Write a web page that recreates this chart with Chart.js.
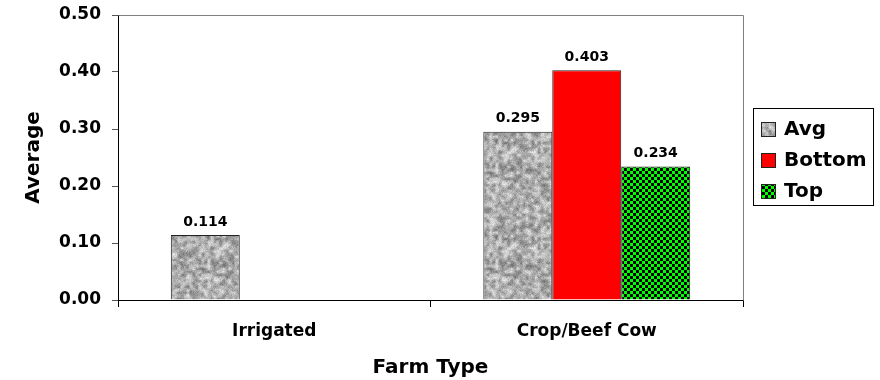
<!DOCTYPE html>
<html>
<head>
<meta charset="utf-8">
<script src="https://cdn.jsdelivr.net/npm/chart.js@4/dist/chart.umd.min.js"></script>
<style>
  html, body { margin: 0; padding: 0; background: #ffffff; }
  #wrap { width: 880px; height: 380px; position: relative; }
</style>
</head>
<body>
<div id="wrap"><canvas id="chart" width="880" height="380"></canvas></div>
<script>
// Farm types on the category axis
const categories = ['Irrigated', 'Crop/Beef Cow'];
// Series values per farm type (Irrigated has only an average)
const avgValues = [0.114, 0.295];
const bottomValues = [null, 0.403];
const topValues = [null, 0.234];
// Value axis ticks
const yTicks = [0.00, 0.10, 0.20, 0.30, 0.40, 0.50];

const FONT = "'DejaVu Sans', Verdana, sans-serif";

// Speckled grey fill built from a small seeded generator so it is the same every run
function granitePattern(ctx) {
  const size = 96;
  const c = document.createElement('canvas');
  c.width = size; c.height = size;
  const g = c.getContext('2d');
  let seed = 12345;
  const rnd = () => { seed = (seed * 1103515245 + 12345) & 0x7fffffff; return seed / 0x7fffffff; };
  const cs = 3;
  const n = size / cs;
  const cells = [];
  for (let y = 0; y < n; y++) {
    cells.push([]);
    for (let x = 0; x < n; x++) cells[y].push(rnd());
  }
  const cell = (x, y) => cells[(y + n) % n][(x + n) % n];
  const img = g.createImageData(size, size);
  for (let y = 0; y < size; y++) {
    for (let x = 0; x < size; x++) {
      const fx = x / cs - 0.5, fy = y / cs - 0.5;
      const x0 = Math.floor(fx), y0 = Math.floor(fy);
      const tx = fx - x0, ty = fy - y0;
      const a = cell(x0, y0) * (1 - tx) + cell(x0 + 1, y0) * tx;
      const b = cell(x0, y0 + 1) * (1 - tx) + cell(x0 + 1, y0 + 1) * tx;
      const s = a * (1 - ty) + b * ty;
      const v = Math.round(100 + (s * 0.75 + rnd() * 0.25) * 145);
      const i = (y * size + x) * 4;
      img.data[i] = v; img.data[i + 1] = v; img.data[i + 2] = v; img.data[i + 3] = 255;
    }
  }
  g.putImageData(img, 0, 0);
  return ctx.createPattern(c, 'repeat');
}

// Green and black checkerboard fill
function checkerPattern(ctx) {
  const c = document.createElement('canvas');
  c.width = 6; c.height = 6;
  const g = c.getContext('2d');
  g.fillStyle = '#00ff00';
  g.fillRect(0, 0, 6, 6);
  g.fillStyle = '#000000';
  g.fillRect(0, 0, 3, 3);
  g.fillRect(3, 3, 3, 3);
  return ctx.createPattern(c, 'repeat');
}

const canvas = document.getElementById('chart');
const ctx = canvas.getContext('2d');
const avgFill = granitePattern(ctx);
const topFill = checkerPattern(ctx);

// Value printed above each bar
const barValueLabels = {
  id: 'barValueLabels',
  afterDatasetsDraw(chart) {
    const c = chart.ctx;
    c.save();
    c.font = 'bold 14px ' + FONT;
    c.fillStyle = '#000000';
    c.textAlign = 'center';
    c.textBaseline = 'bottom';
    chart.data.datasets.forEach((ds, di) => {
      const meta = chart.getDatasetMeta(di);
      meta.data.forEach((bar, i) => {
        const v = ds.data[i];
        if (v === null || v === undefined) return;
        c.fillText(v.toFixed(3), bar.x, bar.y - 6);
      });
    });
    c.restore();
  }
};

// Grey frame on the top and right of the plot area
const plotFrame = {
  id: 'plotFrame',
  beforeDatasetsDraw(chart) {
    const a = chart.chartArea;
    const c = chart.ctx;
    c.save();
    c.strokeStyle = '#808080';
    c.lineWidth = 1;
    c.beginPath();
    c.moveTo(Math.round(a.left) + 0.5, Math.round(a.top) + 0.5);
    c.lineTo(Math.round(a.right) + 0.5, Math.round(a.top) + 0.5);
    c.lineTo(Math.round(a.right) + 0.5, Math.round(a.bottom) + 0.5);
    c.stroke();
    c.restore();
  }
};

// Boxed legend on the right
const boxedLegend = {
  id: 'boxedLegend',
  afterDraw(chart) {
    const c = chart.ctx;
    const a = chart.chartArea;
    const boxX = a.right + 10, boxY = 108, boxW = 120, boxH = 97;
    c.save();
    c.strokeStyle = '#000000';
    c.lineWidth = 1;
    c.strokeRect(Math.round(boxX) + 0.5, boxY + 0.5, boxW, boxH);
    c.font = 'bold 20px ' + FONT;
    c.textAlign = 'left';
    c.textBaseline = 'middle';
    chart.data.datasets.forEach((ds, i) => {
      const cy = 129 + i * 31;
      const sx = Math.round(boxX) + 8;
      c.fillStyle = ds.backgroundColor;
      c.fillRect(sx, cy - 7, 15, 15);
      c.strokeStyle = '#222222';
      c.strokeRect(sx + 0.5, cy - 7 + 0.5, 14, 14);
      c.fillStyle = '#000000';
      c.fillText(ds.label, sx + 23, cy + 1);
    });
    c.restore();
  }
};

new Chart(ctx, {
  type: 'bar',
  data: {
    labels: categories,
    datasets: [
      { label: 'Avg', data: avgValues, backgroundColor: avgFill, borderColor: '#222222', borderWidth: 1 },
      { label: 'Bottom', data: bottomValues, backgroundColor: '#ff0000', borderColor: '#222222', borderWidth: 1 },
      { label: 'Top', data: topValues, backgroundColor: topFill, borderColor: '#222222', borderWidth: 1 }
    ]
  },
  options: {
    responsive: false,
    animation: false,
    devicePixelRatio: 1,
    layout: { padding: { top: 15, right: 137, bottom: 0, left: 10 } },
    datasets: { bar: { categoryPercentage: 0.662, barPercentage: 1.0 } },
    plugins: {
      legend: { display: false },
      tooltip: { enabled: false }
    },
    scales: {
      x: {
        grid: { drawOnChartArea: false, drawTicks: true, tickLength: 7, color: '#000000', offset: true },
        border: { color: '#000000', width: 1 },
        ticks: { color: '#000000', padding: 14, font: { family: FONT, size: 17, weight: 'bold' } },
        title: {
          display: true, text: 'Farm Type', color: '#000000',
          font: { family: FONT, size: 20, weight: 'bold' },
          padding: { top: 14, bottom: 0 }
        },
        afterFit(scale) { scale.height = 80; }
      },
      y: {
        min: 0,
        max: 0.5,
        afterBuildTicks(scale) { scale.ticks = yTicks.map(v => ({ value: v })); },
        grid: { drawOnChartArea: false, drawTicks: true, tickLength: 6, color: '#555555' },
        border: { color: '#000000', width: 1 },
        ticks: {
          color: '#000000', padding: 11,
          font: { family: FONT, size: 17, weight: 'bold' },
          callback: v => Number(v).toFixed(2)
        },
        title: {
          display: true, text: 'Average', color: '#000000',
          font: { family: FONT, size: 20, weight: 'bold' },
          padding: { top: 12, bottom: 13 }
        },
        afterFit(scale) {
          scale.width = 108;
          scale.paddingTop = 0;
          scale.paddingBottom = 0;
        }
      }
    }
  },
  plugins: [plotFrame, barValueLabels, boxedLegend]
});
</script>
</body>
</html>
